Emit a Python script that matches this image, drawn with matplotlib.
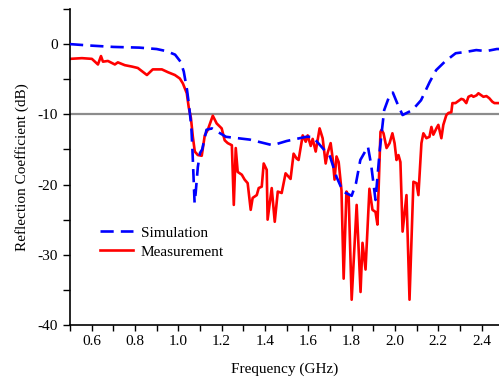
import numpy as np
import matplotlib.pyplot as plt
from matplotlib.ticker import MultipleLocator

# simulated reflection coefficient (GHz, dB)
sim_freq = [0.50, 0.59, 0.70, 0.82, 0.90, 0.945, 0.985, 1.01, 1.025, 1.04,
            1.05, 1.06, 1.065, 1.075, 1.08, 1.09, 1.10, 1.11, 1.13, 1.155,
            1.22, 1.33, 1.435, 1.50, 1.59, 1.62, 1.70, 1.73, 1.76, 1.80,
            1.82, 1.84, 1.875, 1.89, 1.91, 1.93, 1.94, 1.95, 1.975, 1.99,
            2.01, 2.035, 2.08, 2.12, 2.16, 2.19, 2.23, 2.28, 2.33, 2.375,
            2.42, 2.47, 2.50]
sim_db = [0.0, -0.2, -0.4, -0.5, -0.7, -1.0, -1.5, -2.5, -3.9, -6.5,
          -8.9, -11.8, -15.0, -22.6, -21.2, -17.5, -15.5, -15.0, -12.2, -12.0,
          -13.2, -13.6, -14.4, -13.8, -13.2, -13.2, -16.0, -18.9, -21.0, -21.6,
          -19.8, -16.5, -14.6, -17.2, -22.2, -15.0, -12.2, -9.4, -7.3, -6.9,
          -8.4, -10.1, -9.4, -8.0, -5.4, -3.7, -2.5, -1.3, -1.1, -0.85,
          -1.0, -0.7, -0.7]

# measured reflection coefficient (GHz, dB)
meas_freq = [0.500, 0.555, 0.601, 0.629, 0.643, 0.652, 0.675, 0.707, 0.721,
             0.753, 0.786, 0.813, 0.855, 0.882, 0.924, 0.952, 0.984, 1.007,
             1.021, 1.039, 1.048, 1.058, 1.067, 1.076, 1.090, 1.108, 1.122,
             1.136, 1.159, 1.177, 1.200, 1.214, 1.228, 1.247, 1.256, 1.265,
             1.274, 1.293, 1.306, 1.320, 1.334, 1.343, 1.362, 1.371, 1.385,
             1.394, 1.408, 1.412, 1.431, 1.445, 1.459, 1.477, 1.495, 1.509,
             1.518, 1.532, 1.546, 1.555, 1.574, 1.588, 1.597, 1.611, 1.620,
             1.634, 1.652, 1.666, 1.680, 1.689, 1.703, 1.712, 1.721, 1.730,
             1.740, 1.753, 1.763, 1.776, 1.786, 1.800, 1.823, 1.841, 1.850,
             1.864, 1.882, 1.896, 1.910, 1.919, 1.933, 1.938, 1.947, 1.961,
             1.975, 1.988, 1.998, 2.007, 2.016, 2.025, 2.035, 2.053, 2.067,
             2.085, 2.099, 2.108, 2.122, 2.131, 2.145, 2.159, 2.168, 2.177,
             2.191, 2.200, 2.214, 2.223, 2.237, 2.247, 2.260, 2.265, 2.279,
             2.288, 2.306, 2.316, 2.329, 2.339, 2.353, 2.362, 2.376, 2.385,
             2.399, 2.408, 2.422, 2.435, 2.449, 2.459, 2.480]
meas_db = [-2.1, -2.0, -2.1, -2.9, -1.7, -2.5, -2.4, -2.9, -2.6,
           -3.0, -3.2, -3.4, -4.4, -3.6, -3.6, -4.0, -4.4, -4.9,
           -5.6, -7.0, -9.0, -10.5, -13.2, -15.3, -15.8, -15.9, -13.0,
           -12.2, -10.2, -11.3, -12.0, -13.7, -14.1, -14.4, -22.9, -14.8,
           -18.2, -18.6, -19.3, -19.8, -23.6, -21.9, -21.5, -20.5, -20.3,
           -17.0, -17.9, -25.0, -20.5, -25.3, -21.0, -21.2, -18.4, -18.9,
           -19.2, -15.6, -16.3, -16.5, -13.0, -13.9, -13.0, -14.5, -13.5,
           -15.3, -12.0, -13.4, -17.0, -15.5, -14.1, -16.2, -19.3, -16.0,
           -16.8, -20.8, -33.4, -21.0, -21.6, -36.4, -22.9, -35.3, -28.3,
           -32.1, -20.6, -23.6, -23.9, -25.7, -12.5, -12.2, -12.7, -14.8,
           -14.1, -12.7, -14.1, -16.5, -15.8, -16.8, -26.7, -21.5, -36.4,
           -19.6, -19.8, -21.5, -14.1, -12.7, -13.4, -13.2, -11.8, -12.9,
           -12.0, -11.5, -13.4, -11.5, -10.1, -9.8, -9.7, -8.4, -8.4,
           -8.2, -7.8, -7.9, -8.4, -7.5, -7.3, -7.5, -7.3, -7.0,
           -7.3, -7.5, -7.4, -7.7, -8.2, -8.4, -8.4]

ref_level = -10


def main():
    plt.rcParams['font.family'] = ['Liberation Serif', 'DejaVu Serif']
    plt.rcParams['font.size'] = 11
    plt.rcParams['axes.unicode_minus'] = False

    fig = plt.figure(figsize=(4.99, 3.8), dpi=100)
    ax = fig.add_axes([70 / 499, 55 / 380, 429 / 499, 316 / 380])

    ax.axhline(ref_level, color='#8c8c8c', lw=1.6, zorder=1)
    ax.plot(meas_freq, meas_db, color='#ff0000', lw=1.9, zorder=2,
            label='Measurement')
    ax.plot(sim_freq, sim_db, color='#0000ff', lw=1.9, zorder=3,
            dashes=(5.0, 2.7), label='Simulation')

    ax.set_xlim(0.5, 2.48)
    ax.set_ylim(-40, 5)
    ax.xaxis.set_major_locator(MultipleLocator(0.2))
    ax.xaxis.set_minor_locator(MultipleLocator(0.1))
    ax.yaxis.set_major_locator(MultipleLocator(10))
    ax.yaxis.set_minor_locator(MultipleLocator(5))
    ax.tick_params(which='both', direction='out', width=1, colors='black')
    ax.tick_params(axis='y', which='both', length=5)
    ax.tick_params(axis='x', which='both', length=4)

    for side in ('top', 'right'):
        ax.spines[side].set_visible(False)
    for side in ('left', 'bottom'):
        ax.spines[side].set_linewidth(1.2)

    ax.set_xlabel('Frequency (GHz)', labelpad=10)
    ax.set_ylabel('Reflection Coefficient (dB)', labelpad=6)

    handles, labels = ax.get_legend_handles_labels()
    ax.legend(handles[::-1], labels[::-1], loc='center left',
              bbox_to_anchor=(0.055, 0.262), frameon=False,
              handlelength=2.2, handletextpad=0.5, labelspacing=0.35,
              borderaxespad=0)

    fig.savefig('out.png', dpi=100)


if __name__ == '__main__':
    main()
